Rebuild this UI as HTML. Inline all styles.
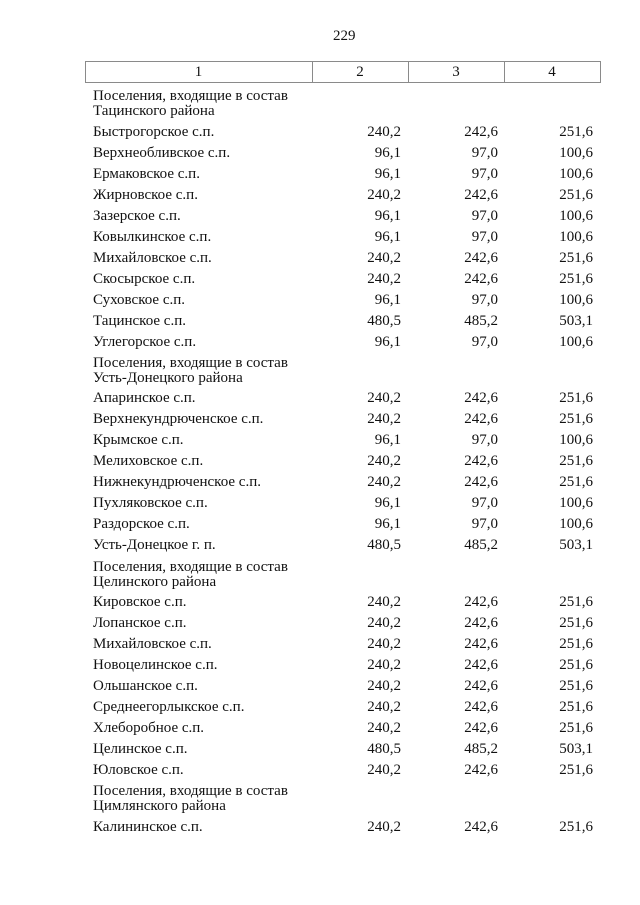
<!DOCTYPE html>
<html>
<head>
<meta charset="utf-8">
<style>
  html,body{margin:0;padding:0;background:#fff;}
  body{width:640px;height:905px;position:relative;overflow:hidden;
       font-family:"Liberation Serif","Noto Serif CJK SC",serif;font-size:15px;color:#111;}
  .w{position:absolute;left:0;top:-1px;width:640px;height:905px;}
  .r{position:absolute;left:0;width:640px;height:15px;line-height:15px;white-space:nowrap;}
  .a{position:absolute;left:93px;}
  .c2{position:absolute;right:239px;}
  .c3{position:absolute;right:142px;}
  .c4{position:absolute;right:47px;}
  .box{position:absolute;left:85px;top:61px;width:516px;height:22px;box-sizing:border-box;border:1px solid #8a8a8a;}
  .v{position:absolute;top:61px;height:22px;width:1px;background:#8a8a8a;}
  .h{position:absolute;top:64.9px;height:15px;line-height:15px;text-align:center;}
</style>
</head>
<body>
<div class="r" style="top:29.4px;"><span style="position:absolute;left:333px;">229</span></div>

<div class="box"></div>
<div class="v" style="left:312px;"></div>
<div class="v" style="left:408px;"></div>
<div class="v" style="left:504px;"></div>
<div class="h" style="left:85px;width:227px;">1</div>
<div class="h" style="left:312px;width:96px;">2</div>
<div class="h" style="left:408px;width:96px;">3</div>
<div class="h" style="left:504px;width:96px;">4</div>

<div class="w">
<div class="r" style="top:89.7px;"><span class="a">Поселения, входящие в состав</span></div>
<div class="r" style="top:105.1px;"><span class="a">Тацинского района</span></div>
<div class="r" style="top:125.7px;"><span class="a">Быстрогорское с.п.</span><span class="c2">240,2</span><span class="c3">242,6</span><span class="c4">251,6</span></div>
<div class="r" style="top:146.7px;"><span class="a">Верхнеобливское с.п.</span><span class="c2">96,1</span><span class="c3">97,0</span><span class="c4">100,6</span></div>
<div class="r" style="top:167.7px;"><span class="a">Ермаковское с.п.</span><span class="c2">96,1</span><span class="c3">97,0</span><span class="c4">100,6</span></div>
<div class="r" style="top:188.7px;"><span class="a">Жирновское с.п.</span><span class="c2">240,2</span><span class="c3">242,6</span><span class="c4">251,6</span></div>
<div class="r" style="top:209.7px;"><span class="a">Зазерское с.п.</span><span class="c2">96,1</span><span class="c3">97,0</span><span class="c4">100,6</span></div>
<div class="r" style="top:230.7px;"><span class="a">Ковылкинское с.п.</span><span class="c2">96,1</span><span class="c3">97,0</span><span class="c4">100,6</span></div>
<div class="r" style="top:251.7px;"><span class="a">Михайловское с.п.</span><span class="c2">240,2</span><span class="c3">242,6</span><span class="c4">251,6</span></div>
<div class="r" style="top:272.7px;"><span class="a">Скосырское с.п.</span><span class="c2">240,2</span><span class="c3">242,6</span><span class="c4">251,6</span></div>
<div class="r" style="top:293.7px;"><span class="a">Суховское с.п.</span><span class="c2">96,1</span><span class="c3">97,0</span><span class="c4">100,6</span></div>
<div class="r" style="top:314.7px;"><span class="a">Тацинское с.п.</span><span class="c2">480,5</span><span class="c3">485,2</span><span class="c4">503,1</span></div>
<div class="r" style="top:335.7px;"><span class="a">Углегорское с.п.</span><span class="c2">96,1</span><span class="c3">97,0</span><span class="c4">100,6</span></div>

<div class="r" style="top:356.7px;"><span class="a">Поселения, входящие в состав</span></div>
<div class="r" style="top:371.9px;"><span class="a">Усть-Донецкого района</span></div>
<div class="r" style="top:392.4px;"><span class="a">Апаринское с.п.</span><span class="c2">240,2</span><span class="c3">242,6</span><span class="c4">251,6</span></div>
<div class="r" style="top:413.4px;"><span class="a">Верхнекундрюченское с.п.</span><span class="c2">240,2</span><span class="c3">242,6</span><span class="c4">251,6</span></div>
<div class="r" style="top:434.4px;"><span class="a">Крымское с.п.</span><span class="c2">96,1</span><span class="c3">97,0</span><span class="c4">100,6</span></div>
<div class="r" style="top:455.4px;"><span class="a">Мелиховское с.п.</span><span class="c2">240,2</span><span class="c3">242,6</span><span class="c4">251,6</span></div>
<div class="r" style="top:476.4px;"><span class="a">Нижнекундрюченское с.п.</span><span class="c2">240,2</span><span class="c3">242,6</span><span class="c4">251,6</span></div>
<div class="r" style="top:497.4px;"><span class="a">Пухляковское с.п.</span><span class="c2">96,1</span><span class="c3">97,0</span><span class="c4">100,6</span></div>
<div class="r" style="top:518.4px;"><span class="a">Раздорское с.п.</span><span class="c2">96,1</span><span class="c3">97,0</span><span class="c4">100,6</span></div>
<div class="r" style="top:539.4px;"><span class="a">Усть-Донецкое г. п.</span><span class="c2">480,5</span><span class="c3">485,2</span><span class="c4">503,1</span></div>

<div class="r" style="top:560.7px;"><span class="a">Поселения, входящие в состав</span></div>
<div class="r" style="top:575.7px;"><span class="a">Целинского района</span></div>
<div class="r" style="top:596.2px;"><span class="a">Кировское с.п.</span><span class="c2">240,2</span><span class="c3">242,6</span><span class="c4">251,6</span></div>
<div class="r" style="top:617.2px;"><span class="a">Лопанское с.п.</span><span class="c2">240,2</span><span class="c3">242,6</span><span class="c4">251,6</span></div>
<div class="r" style="top:638.2px;"><span class="a">Михайловское с.п.</span><span class="c2">240,2</span><span class="c3">242,6</span><span class="c4">251,6</span></div>
<div class="r" style="top:659.2px;"><span class="a">Новоцелинское с.п.</span><span class="c2">240,2</span><span class="c3">242,6</span><span class="c4">251,6</span></div>
<div class="r" style="top:680.2px;"><span class="a">Ольшанское с.п.</span><span class="c2">240,2</span><span class="c3">242,6</span><span class="c4">251,6</span></div>
<div class="r" style="top:701.2px;"><span class="a">Среднеегорлыкское с.п.</span><span class="c2">240,2</span><span class="c3">242,6</span><span class="c4">251,6</span></div>
<div class="r" style="top:722.2px;"><span class="a">Хлеборобное с.п.</span><span class="c2">240,2</span><span class="c3">242,6</span><span class="c4">251,6</span></div>
<div class="r" style="top:743.2px;"><span class="a">Целинское с.п.</span><span class="c2">480,5</span><span class="c3">485,2</span><span class="c4">503,1</span></div>
<div class="r" style="top:764.2px;"><span class="a">Юловское с.п.</span><span class="c2">240,2</span><span class="c3">242,6</span><span class="c4">251,6</span></div>

<div class="r" style="top:785.4px;"><span class="a">Поселения, входящие в состав</span></div>
<div class="r" style="top:800.4px;"><span class="a">Цимлянского района</span></div>
<div class="r" style="top:820.9px;"><span class="a">Калининское с.п.</span><span class="c2">240,2</span><span class="c3">242,6</span><span class="c4">251,6</span></div>
</div>
</body>
</html>
